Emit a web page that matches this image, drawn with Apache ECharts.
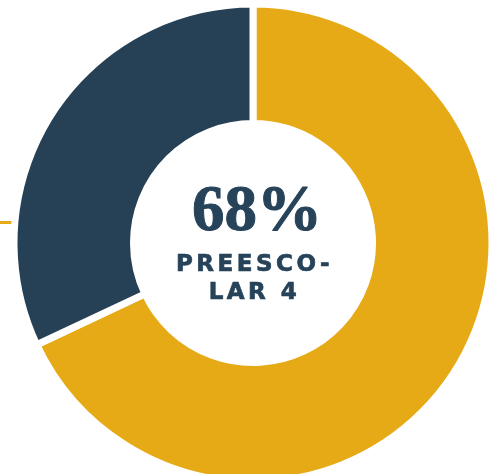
<!DOCTYPE html>
<html>
<head>
<meta charset="utf-8">
<script src="https://cdn.jsdelivr.net/npm/echarts@6/dist/echarts.min.js"></script>
<style>
html,body{margin:0;padding:0;background:#fff;}
#wrap{position:relative;width:495px;height:474px;overflow:hidden;}
#chart{position:absolute;left:0;top:0;width:495px;height:474px;}
#label{position:absolute;left:0;width:509px;top:249px;text-align:center;color:#27435a;
 font-family:"DejaVu Sans",sans-serif;font-weight:bold;font-size:23px;line-height:28px;letter-spacing:3.5px;
 -webkit-text-stroke:0.7px #27435a;}
</style>
</head>
<body>
<div id="wrap">
<div id="chart"></div>
<div id="label">PREESCO-<br>LAR 4</div>
</div>
<script>
const categories = ['Preescolar 4', 'Resto'];
const values = [68, 32];
const colors = ['#E7AA17', '#264055'];
const centerValue = '68%';

const chart = echarts.init(document.getElementById('chart'), null, {renderer: 'canvas'});
chart.setOption({
  animation: false,
  title: {
    text: centerValue,
    left: 252, top: 176, textAlign: 'center',
    textStyle: {fontFamily: 'Liberation Serif', fontWeight: 'bold', fontSize: 65, color: '#27435a',
      textBorderColor: '#27435a', textBorderWidth: 1}
  },
  graphic: [{
    type: 'line', shape: {x1: 0, y1: 222.5, x2: 13, y2: 222.5},
    style: {stroke: '#E7AA17', lineWidth: 3}
  }],
  series: [{
    type: 'pie',
    center: [253, 243],
    radius: [119.5, 239],
    startAngle: 90,
    clockwise: true,
    label: {show: false},
    labelLine: {show: false},
    emphasis: {disabled: true},
    itemStyle: {borderColor: '#fff', borderWidth: 7},
    data: categories.map((c, i) => ({name: c, value: values[i], itemStyle: {color: colors[i]}}))
  }]
});
</script>
</body>
</html>
